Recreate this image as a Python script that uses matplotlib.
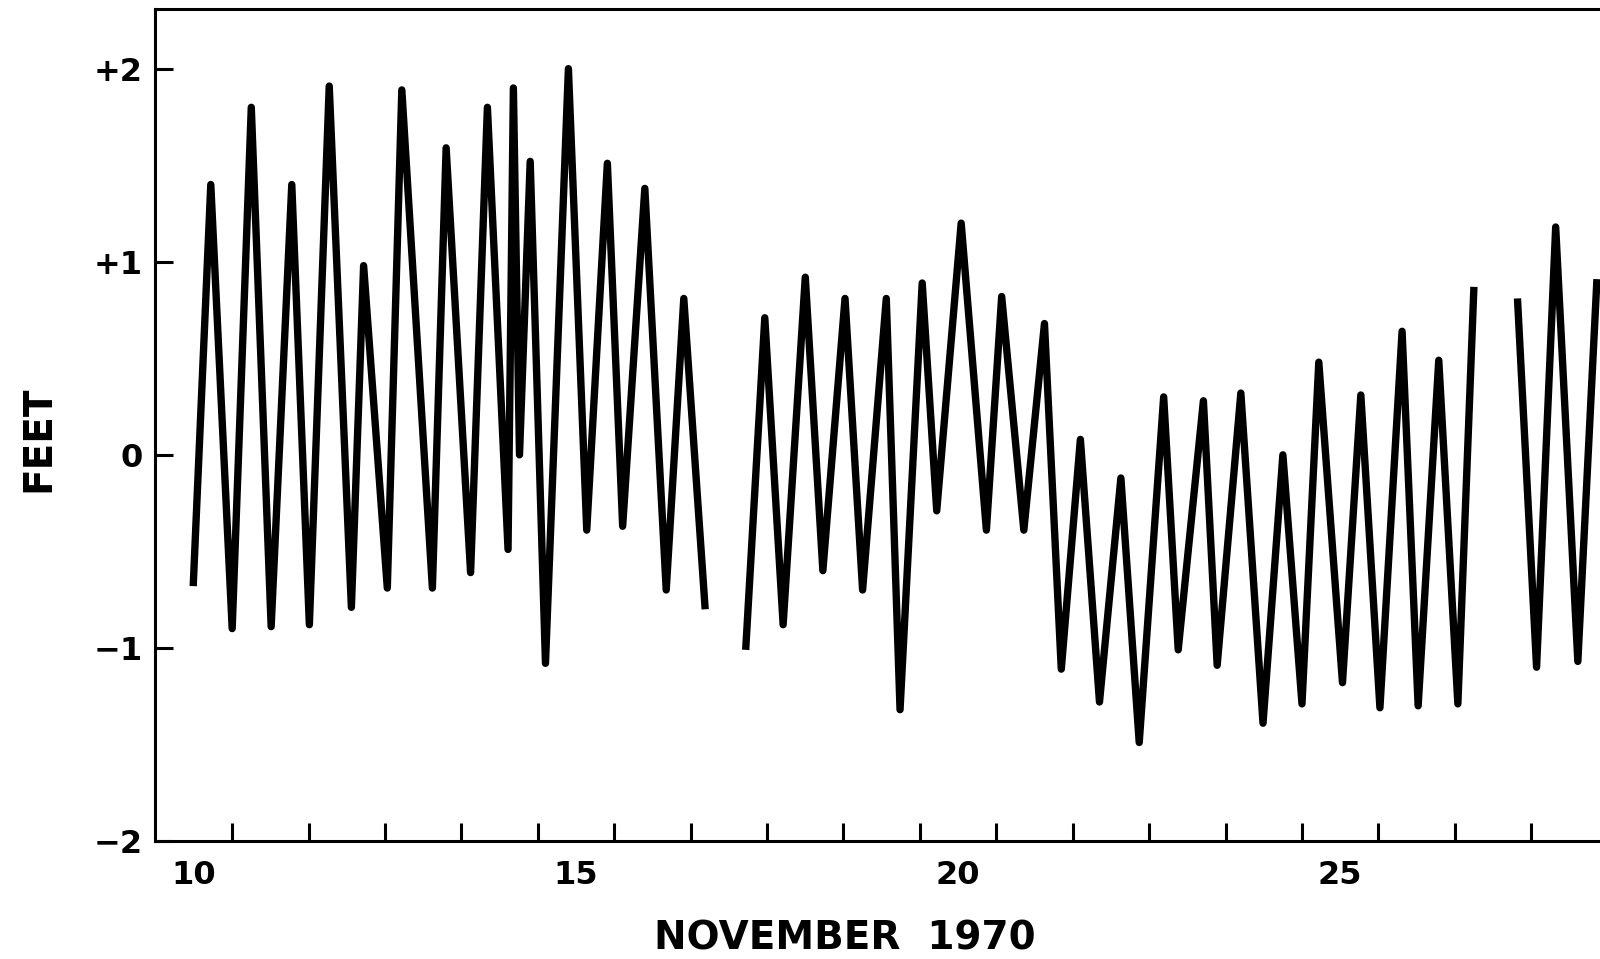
import numpy as np
import matplotlib
matplotlib.use("Agg")
import matplotlib.pyplot as plt

# Tide height record, November 1970 (x = day of month, y = feet)
days_a = [10.49, 10.72, 11.00, 11.25, 11.51, 11.78, 12.01, 12.27, 12.56, 12.72,
          13.03, 13.22, 13.62, 13.80, 14.12, 14.34, 14.61, 14.68, 14.76, 14.90,
          15.10, 15.40, 15.64, 15.91, 16.11, 16.40, 16.68, 16.91, 17.19]
feet_a = [-0.68, 1.40, -0.90, 1.80, -0.89, 1.40, -0.88, 1.91, -0.79, 0.98,
          -0.69, 1.89, -0.69, 1.59, -0.61, 1.80, -0.49, 1.90, 0.00, 1.52,
          -1.08, 2.00, -0.39, 1.51, -0.37, 1.38, -0.70, 0.81, -0.80]

days_b = [17.72, 17.97, 18.21, 18.50, 18.73, 19.02, 19.25, 19.56, 19.74, 20.03,
          20.22, 20.54, 20.87, 21.07, 21.36, 21.63, 21.85, 22.10, 22.35, 22.63,
          22.87, 23.19, 23.38, 23.71, 23.89, 24.20, 24.49, 24.75, 25.00, 25.22,
          25.53, 25.77, 26.02, 26.31, 26.52, 26.79, 27.04, 27.25]
feet_b = [-1.01, 0.71, -0.88, 0.92, -0.60, 0.81, -0.70, 0.81, -1.32, 0.89,
          -0.29, 1.20, -0.39, 0.82, -0.39, 0.68, -1.11, 0.08, -1.28, -0.12,
          -1.49, 0.30, -1.01, 0.28, -1.09, 0.32, -1.39, 0.00, -1.29, 0.48,
          -1.18, 0.31, -1.31, 0.64, -1.30, 0.49, -1.29, 0.87]

days_c = [27.82, 28.07, 28.32, 28.61, 28.86]
feet_c = [0.81, -1.10, 1.18, -1.07, 0.91]

day_ticks = list(range(11, 29))
day_labels = ["10", "15", "20", "25"]
feet_ticks = [-2, -1, 0, 1, 2]
feet_labels = ["\u22122", "\u22121", "0", "+1", "+2"]

FONT = "DejaVu Sans"

fig = plt.figure(figsize=(16, 9.59), dpi=100)
ax = fig.add_axes([155 / 1600, 1 - 841 / 959, 1 - 155 / 1600, (841 - 9) / 959])

for d, f in ((days_a, feet_a), (days_b, feet_b), (days_c, feet_c)):
    ax.plot(d, f, color="black", lw=5.3, solid_joinstyle="round",
            solid_capstyle="butt")

ax.set_xlim(9.99, 28.90)
ax.set_ylim(-2, 2.309)

# day boundaries as inward ticks, labels centred on the day
ax.set_xticks(day_ticks)
ax.set_xticklabels([])
ax.set_xticks([int(s) + 0.5 for s in day_labels], minor=True)
ax.set_xticklabels(day_labels, minor=True, fontsize=23, fontweight="bold",
                   family=FONT)
ax.tick_params(axis="x", which="major", direction="in", length=13, width=2.2)
ax.tick_params(axis="x", which="minor", length=0, pad=14)

ax.set_yticks(feet_ticks)
ax.set_yticklabels(feet_labels, fontsize=23, fontweight="bold", family=FONT)
ax.tick_params(axis="y", direction="in", length=13, width=2.2, pad=9)

for side in ("left", "bottom", "top"):
    ax.spines[side].set_linewidth(2.2)
ax.spines["right"].set_visible(False)

fig.text(49 / 1600, 1 - 439 / 959, "FEET", rotation=90, rotation_mode="anchor",
         ha="center", va="baseline", fontsize=28, fontweight="bold", family=FONT)
fig.text(845 / 1600, 1 - 949 / 959, "NOVEMBER  1970", ha="center", va="baseline",
         fontsize=28, fontweight="bold", family=FONT)

fig.savefig("out.png", dpi=100)
